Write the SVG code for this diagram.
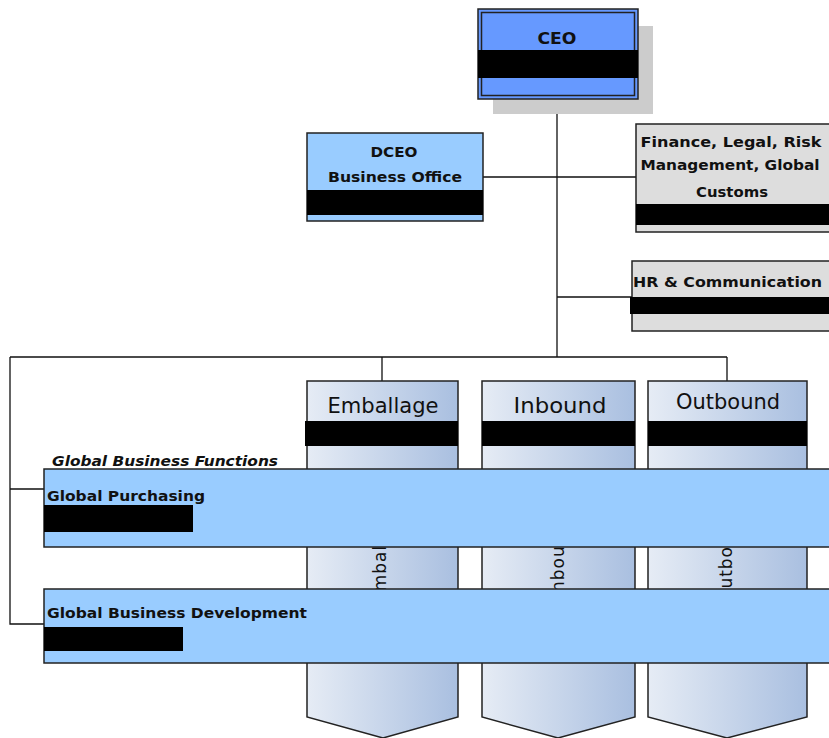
<svg xmlns="http://www.w3.org/2000/svg" width="829" height="738" viewBox="0 0 829 738">
<defs>
<linearGradient id="colg" x1="0" y1="0" x2="1" y2="0">
<stop offset="0" stop-color="#E6ECF5"/>
<stop offset="1" stop-color="#A9BFE0"/>
</linearGradient>
</defs>
<style>
.b{stroke:#222;stroke-width:1.5}
.bar{fill:#000}
.t{font-family:"DejaVu Sans",sans-serif;font-weight:bold;fill:#111}
.ct{font-family:"DejaVu Sans",sans-serif;fill:#111}
.ln{stroke:#111;stroke-width:1.3;fill:none}
</style>
<rect width="829" height="738" fill="#fff"/>
<g id="connectors">
<path class="ln" d="M557,99 V357 M483,177 H636 M557,297 H632 M10,357 H727 M382,357 V381 M727,357 V381 M10,357 V624 H44 M10,489 H44"/>
</g>
<g id="col-emballage">
<path d="M307,381 H458 V717 L383,738 L307,717 Z" fill="url(#colg)" class="b"/>
<rect x="305" y="421" width="153" height="25" class="bar"/>
<text class="ct" x="383" y="413" font-size="21" text-anchor="middle" textLength="111" lengthAdjust="spacingAndGlyphs">Emballage</text>
<text class="ct" font-size="17" letter-spacing="1" transform="translate(386,603) rotate(-90)">Emballage</text>
</g>
<g id="col-inbound">
<path d="M482,381 H635 V717 L558,738 L482,717 Z" fill="url(#colg)" class="b"/>
<rect x="482" y="421" width="153" height="25" class="bar"/>
<text class="ct" x="560" y="413" font-size="21" text-anchor="middle" textLength="93" lengthAdjust="spacingAndGlyphs">Inbound</text>
<text class="ct" font-size="17" letter-spacing="1" transform="translate(564,598) rotate(-90)">Inbound</text>
</g>
<g id="col-outbound">
<path d="M648,381 H807 V717 L727,738 L648,717 Z" fill="url(#colg)" class="b"/>
<rect x="648" y="421" width="159" height="25" class="bar"/>
<text class="ct" x="728" y="409" font-size="21" text-anchor="middle" textLength="104" lengthAdjust="spacingAndGlyphs">Outbound</text>
<text class="ct" font-size="17" letter-spacing="1" transform="translate(732,603) rotate(-90)">Outbound</text>
</g>
<g id="ceo">
<rect x="493" y="26" width="160" height="88" fill="#CCCCCC"/>
<rect x="478" y="9" width="160" height="90" fill="#6699FF" class="b"/>
<rect x="481.5" y="12.5" width="153" height="83" fill="none" class="b"/>
<rect x="478" y="50" width="160" height="28" class="bar"/>
<text class="t" x="557" y="44" font-size="15" text-anchor="middle" textLength="39" lengthAdjust="spacingAndGlyphs">CEO</text>
</g>
<g id="dceo">
<rect x="307" y="133" width="176" height="88" fill="#99CCFF" class="b"/>
<rect x="307" y="190" width="176" height="25" class="bar"/>
<text class="t" x="394" y="157" font-size="14" text-anchor="middle" textLength="47" lengthAdjust="spacingAndGlyphs">DCEO</text>
<text class="t" x="395" y="182" font-size="14" text-anchor="middle" textLength="134" lengthAdjust="spacingAndGlyphs">Business Office</text>
</g>
<g id="finance">
<rect x="636" y="124" width="200" height="108" fill="#DDDDDD" class="b"/>
<rect x="636" y="204" width="200" height="21" class="bar"/>
<text class="t" x="731" y="147" font-size="14" text-anchor="middle" textLength="181" lengthAdjust="spacingAndGlyphs">Finance, Legal, Risk</text>
<text class="t" x="730" y="170" font-size="14" text-anchor="middle" textLength="179" lengthAdjust="spacingAndGlyphs">Management, Global</text>
<text class="t" x="732" y="197" font-size="14" text-anchor="middle" textLength="72" lengthAdjust="spacingAndGlyphs">Customs</text>
</g>
<g id="hr">
<rect x="632" y="261" width="204" height="70" fill="#DDDDDD" class="b"/>
<rect x="630" y="297" width="206" height="17" class="bar"/>
<text class="t" x="633" y="287" font-size="14" textLength="189" lengthAdjust="spacingAndGlyphs">HR &amp; Communication</text>
</g>
<g id="global-purchasing">
<rect x="44" y="469" width="792" height="78" fill="#99CCFF" class="b"/>
<rect x="44" y="505" width="149" height="27" class="bar"/>
<text class="t" x="47" y="501" font-size="14" textLength="158" lengthAdjust="spacingAndGlyphs">Global Purchasing</text>
</g>
<g id="global-business-functions">
<text class="t" x="52" y="466" font-size="14" font-style="italic" textLength="226" lengthAdjust="spacingAndGlyphs">Global Business Functions</text>
</g>
<g id="global-business-development">
<rect x="44" y="589" width="792" height="74" fill="#99CCFF" class="b"/>
<rect x="44" y="627" width="139" height="24" class="bar"/>
<text class="t" x="47" y="618" font-size="14" textLength="260" lengthAdjust="spacingAndGlyphs">Global Business Development</text>
</g>
</svg>
